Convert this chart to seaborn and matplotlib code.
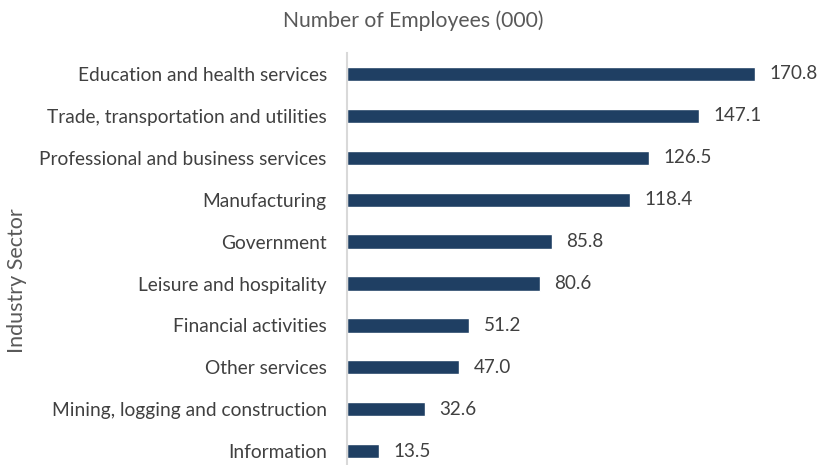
import matplotlib
matplotlib.use("Agg")
import matplotlib.pyplot as plt
import seaborn as sns
import pandas as pd

sectors = [
    "Education and health services",
    "Trade, transportation and utilities",
    "Professional and business services",
    "Manufacturing",
    "Government",
    "Leisure and hospitality",
    "Financial activities",
    "Other services",
    "Mining, logging and construction",
    "Information",
]
employees = [170.8, 147.1, 126.5, 118.4, 85.8, 80.6, 51.2, 47.0, 32.6, 13.5]

df = pd.DataFrame({"sector": sectors, "employees": employees})

sns.set_theme(style="white")
plt.rcParams["font.family"] = ["Lato", "DejaVu Sans"]

text_color = "#595959"
bar_color = "#1F3F63"

fig = plt.figure(figsize=(8.18, 4.65), dpi=100)
ax = fig.add_axes([0.424, 0.0, 0.576, 0.886])

sns.barplot(data=df, x="employees", y="sector", color=bar_color,
            width=0.34, saturation=1, ax=ax)

ax.set_xlim(0, 197)
ax.set_ylim(9.33, -0.5)

for i, v in enumerate(employees):
    ax.text(v + 6, i, f"{v:.1f}", va="center", ha="left",
            fontsize=13.6, color="#404040")

ax.set_xticks([])
ax.set_xlabel("")
ax.set_ylabel("Industry Sector", fontsize=15.5, color=text_color)
ax.yaxis.set_label_coords(-0.678, 0.447)
ax.tick_params(axis="y", length=0, pad=14.4, labelsize=13.8, labelcolor="#404040")

for side in ["top", "right", "bottom"]:
    ax.spines[side].set_visible(False)
ax.spines["left"].set_color("#D9D9D9")
ax.spines["left"].set_linewidth(1.5)

fig.text(0.505, 0.955, "Number of Employees (000)", ha="center", va="center",
         fontsize=15.2, color=text_color)

fig.savefig("out.png", dpi=100)
